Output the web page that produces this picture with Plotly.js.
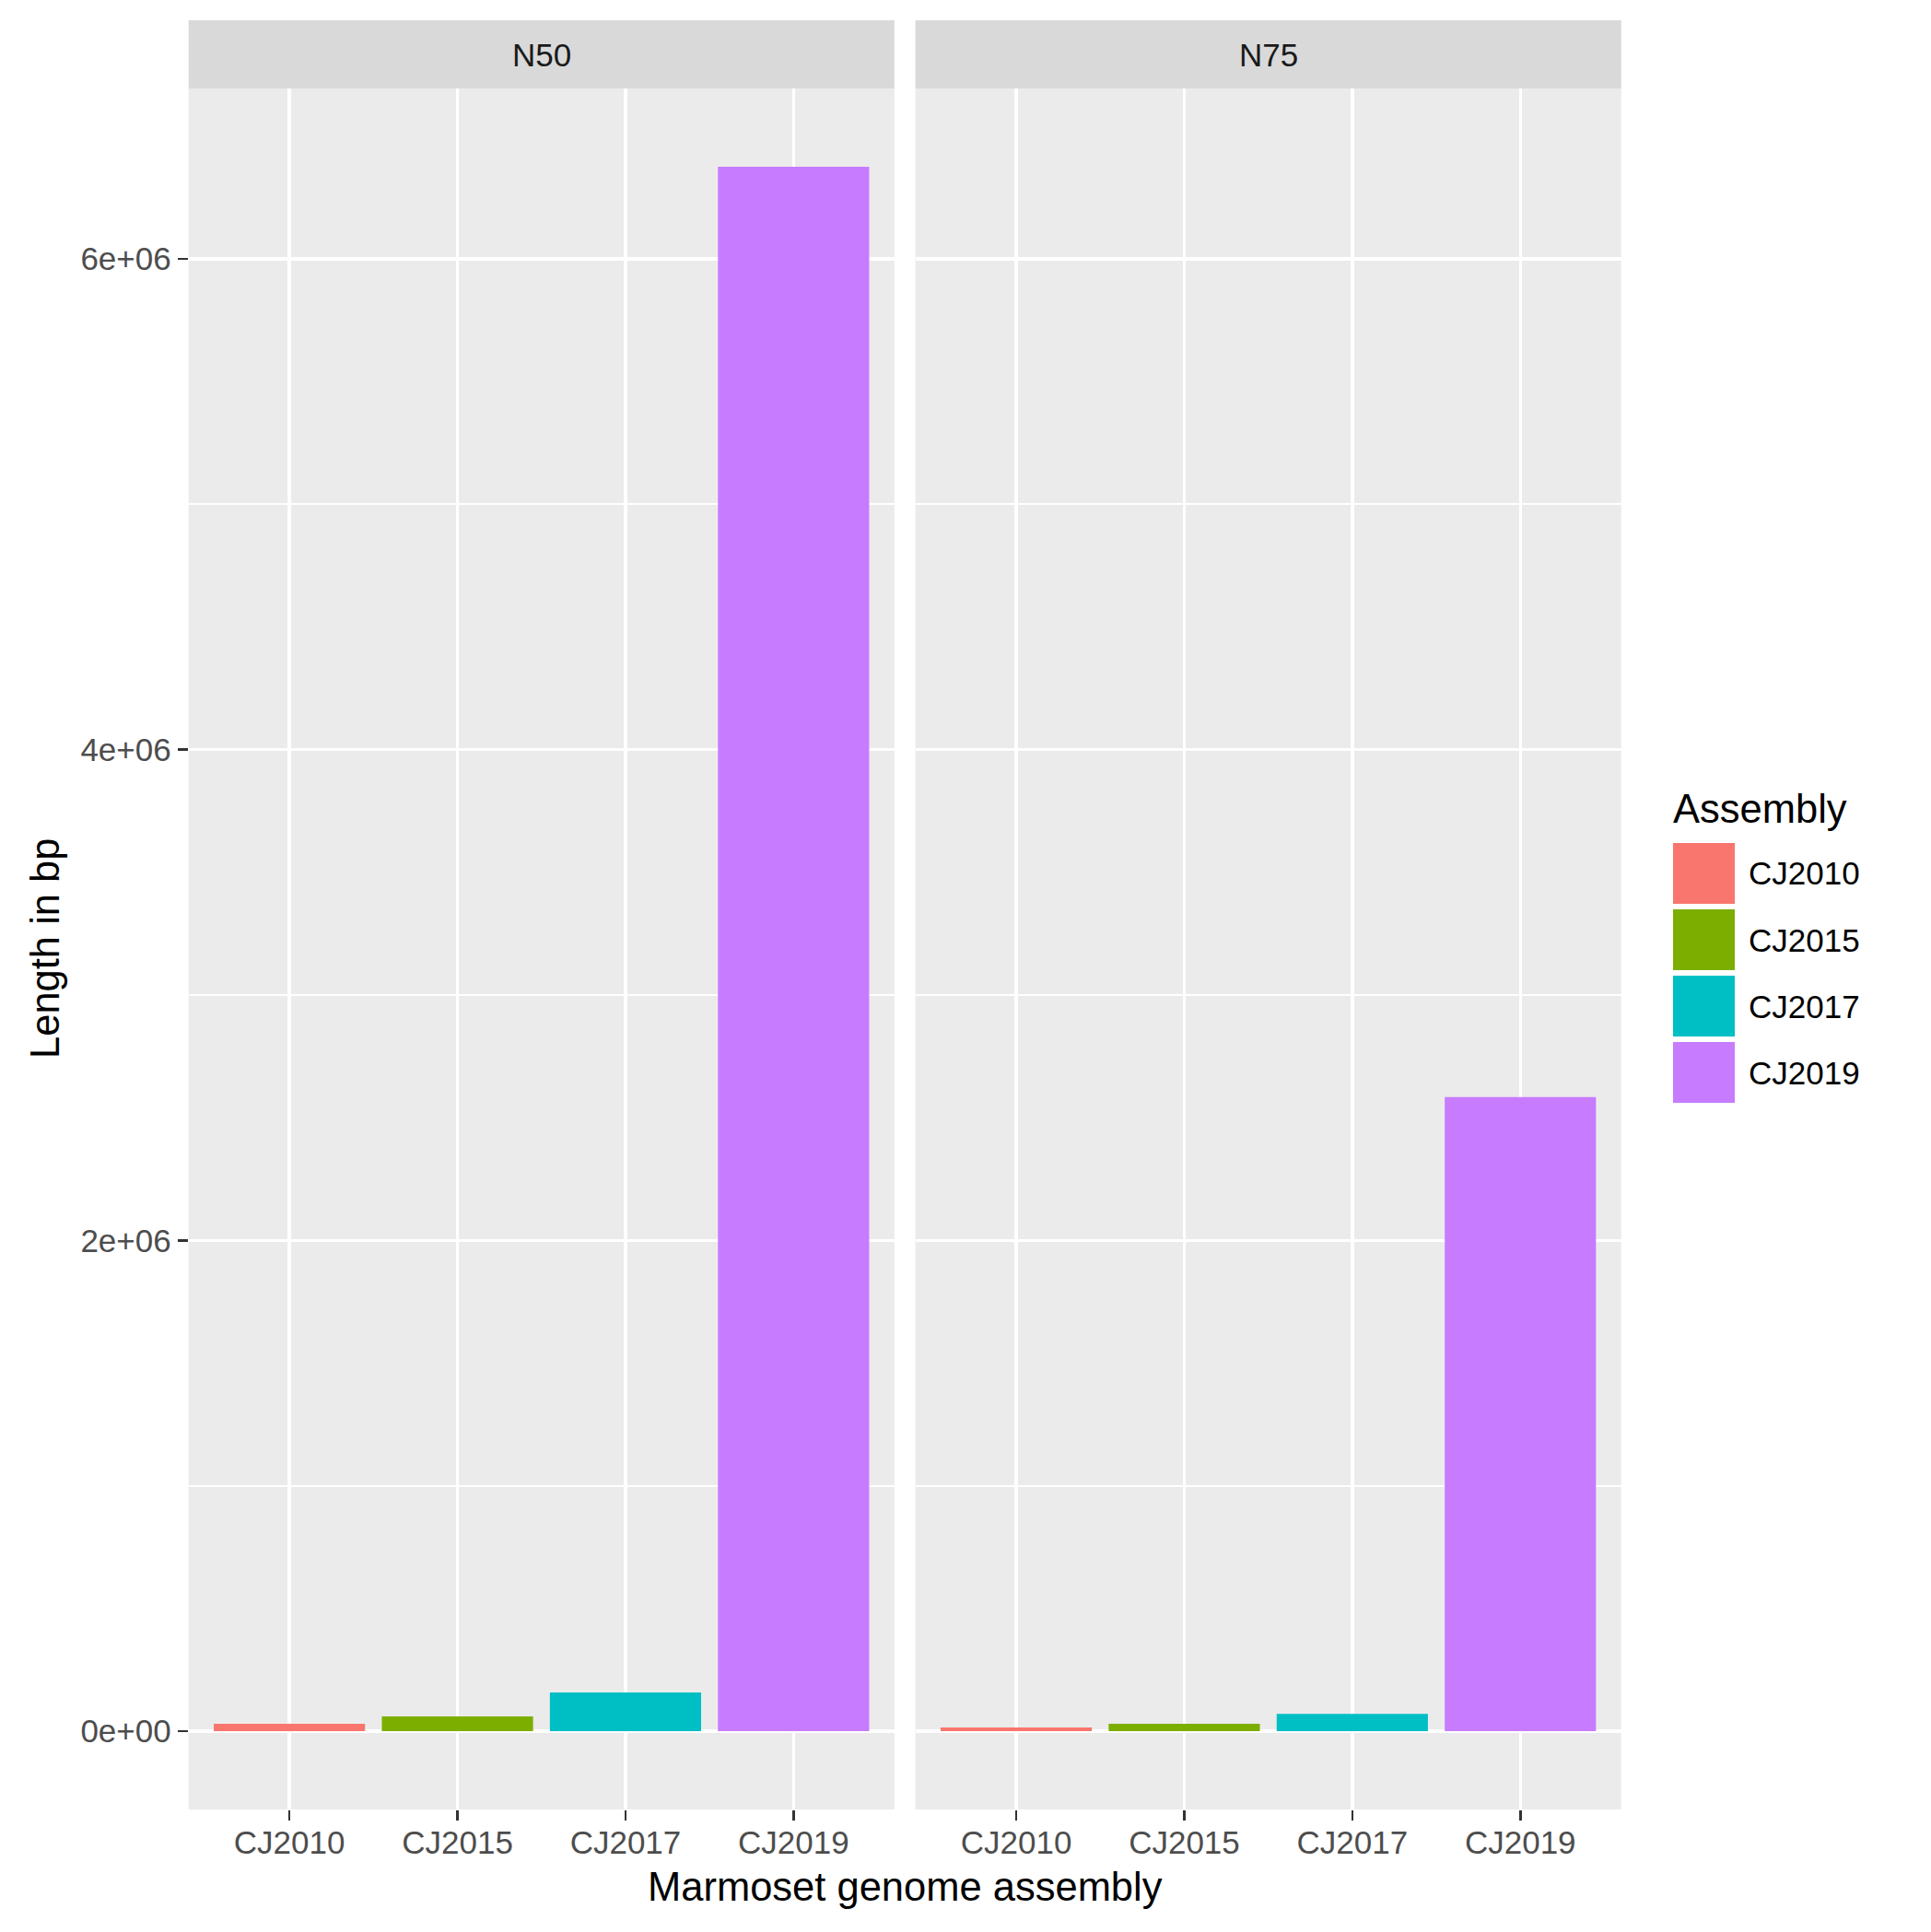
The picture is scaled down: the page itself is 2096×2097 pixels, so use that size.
<!DOCTYPE html>
<html>
<head>
<meta charset="utf-8">
<script src="https://cdn.plot.ly/plotly-3.0.1.min.js"></script>
<style>html,body{margin:0;padding:0;background:#fff;}</style>
</head>
<body>
<div id="chart" style="width:2096px;height:2097px;"></div>
<script>
const categories = ["CJ2010", "CJ2015", "CJ2017", "CJ2019"];
const facets = ["N50", "N75"];
const n50Values = [30000, 60000, 158000, 6376000];
const n75Values = [15000, 30000, 71000, 2584000];
const colors = ["#F8766D", "#7CAE00", "#00BFC4", "#C77CFF"];
const yTickVals = [0, 2000000, 4000000, 6000000];
const yTickText = ["0e+00", "2e+06", "4e+06", "6e+06"];
const minorTickVals = [1000000, 3000000, 5000000];

const W = 2096, H = 2097;
const px = v => v / W;
const py = v => 1 - v / H;

const panel1 = [px(204.7), px(970.8)];
const panel2 = [px(993.6), px(1759.7)];
const panelY = [py(1964), py(96)];
const stripY = [py(96), py(22)];

const allVals = n50Values.concat(n75Values);
const maxV = Math.max(...allVals);
const yRange = [-0.05 * maxV, 1.05 * maxV];

const font = "Liberation Sans, Arial, Helvetica, sans-serif";
const tickSize = 35, titleSize = 43.5;

const traces = [
  {type: "bar", x: categories, y: n50Values, marker: {color: colors}, xaxis: "x", yaxis: "y", showlegend: false, name: facets[0]},
  {type: "bar", x: categories, y: n75Values, marker: {color: colors}, xaxis: "x2", yaxis: "y2", showlegend: false, name: facets[1]}
];

const xCommon = {
  type: "category", range: [-0.6, 3.6], showgrid: true, gridcolor: "#FFFFFF", gridwidth: 3.5,
  ticks: "outside", ticklen: 11, tickwidth: 2.5, tickcolor: "#333333", ticklabelstandoff: -6,
  tickfont: {family: font, size: tickSize, color: "#4D4D4D"}, zeroline: false, showline: false,
  fixedrange: true
};
const yCommon = {
  range: yRange, showgrid: true, gridcolor: "#FFFFFF", gridwidth: 3.5,
  zeroline: true, zerolinecolor: "#FFFFFF", zerolinewidth: 3.5,
  tickmode: "array", tickvals: yTickVals, ticktext: yTickText,
  minor: {tickmode: "array", tickvals: minorTickVals, showgrid: true, gridcolor: "#FFFFFF", gridwidth: 2, ticks: ""},
  domain: panelY, showline: false
};

const shapes = [];
const annotations = [];
[panel1, panel2].forEach((d, i) => {
  shapes.push({type: "rect", xref: "paper", yref: "paper", x0: d[0], x1: d[1], y0: stripY[0], y1: stripY[1],
    fillcolor: "#D9D9D9", line: {width: 0}, layer: "below"});
  annotations.push({xref: "paper", yref: "paper", x: (d[0] + d[1]) / 2, y: (stripY[0] + stripY[1]) / 2,
    text: facets[i], showarrow: false, xanchor: "center", yanchor: "middle",
    font: {family: font, size: tickSize, color: "#1A1A1A"}});
});

// axis titles
annotations.push({xref: "paper", yref: "paper", x: (panel1[0] + panel2[1]) / 2, y: py(2048),
  text: "Marmoset genome assembly", showarrow: false, xanchor: "center", yanchor: "middle",
  font: {family: font, size: titleSize, color: "#000000"}});
annotations.push({xref: "paper", yref: "paper", x: px(49), y: (panelY[0] + panelY[1]) / 2,
  text: "Length in bp", showarrow: false, xanchor: "center", yanchor: "middle", textangle: -90,
  font: {family: font, size: titleSize, color: "#000000"}});

// legend
annotations.push({xref: "paper", yref: "paper", x: px(1814), y: py(878),
  text: "Assembly", showarrow: false, xanchor: "left", yanchor: "middle",
  font: {family: font, size: titleSize, color: "#000000"}});
categories.forEach((c, i) => {
  const top = 915 + 72 * i;
  shapes.push({type: "rect", xref: "paper", yref: "paper", x0: px(1816), x1: px(1883), y0: py(top + 66), y1: py(top),
    fillcolor: colors[i], line: {width: 0}});
  annotations.push({xref: "paper", yref: "paper", x: px(1896), y: py(top + 33),
    text: c, showarrow: false, xanchor: "left", yanchor: "middle",
    font: {family: font, size: tickSize, color: "#000000"}});
});

const layout = {
  width: W, height: H,
  margin: {l: 0, r: 0, t: 0, b: 0},
  paper_bgcolor: "#FFFFFF", plot_bgcolor: "#EBEBEB",
  bargap: 0.1,
  showlegend: false,
  font: {family: font},
  xaxis: Object.assign({}, xCommon, {domain: panel1, anchor: "y"}),
  xaxis2: Object.assign({}, xCommon, {domain: panel2, anchor: "y2"}),
  yaxis: Object.assign({}, yCommon, {anchor: "x",
    ticks: "outside", ticklen: 11, tickwidth: 2.5, tickcolor: "#333333",
    tickfont: {family: font, size: tickSize, color: "#4D4D4D"}}),
  yaxis2: Object.assign({}, yCommon, {anchor: "x2", matches: "y", showticklabels: false, ticks: ""}),
  shapes: shapes,
  annotations: annotations
};

Plotly.newPlot("chart", traces, layout, {displayModeBar: false, staticPlot: true});
</script>
</body>
</html>
